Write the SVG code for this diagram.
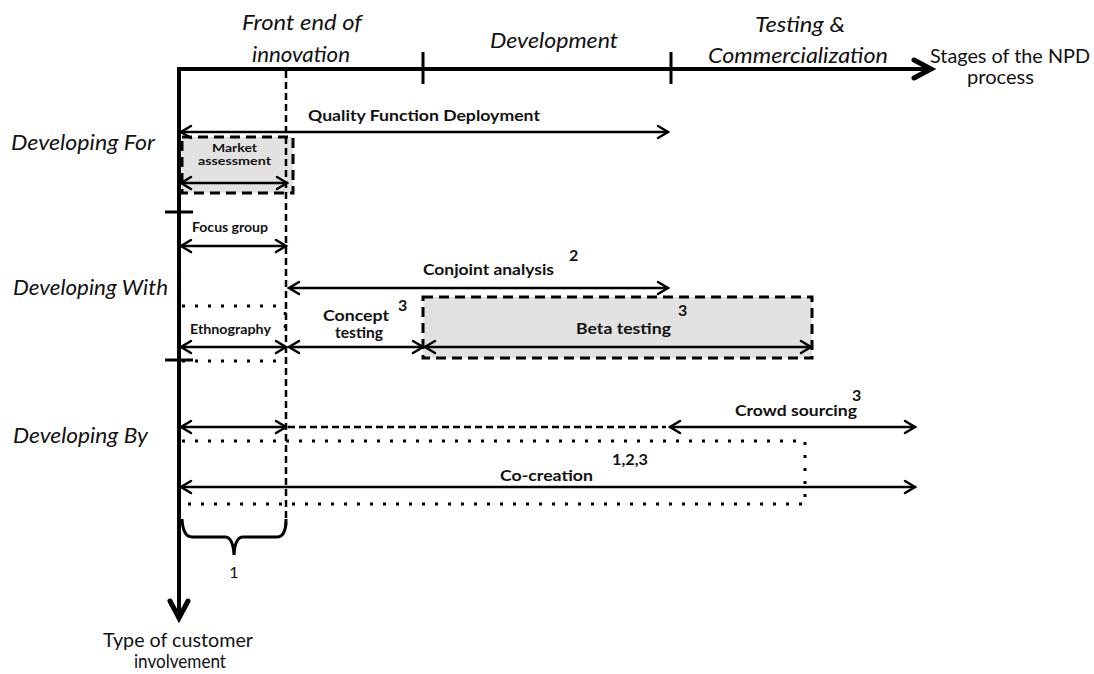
<svg xmlns="http://www.w3.org/2000/svg" width="1094" height="674" viewBox="0 0 1094 674">
  <style>
    .head { font-family: Lato, "Open Sans", "Liberation Sans", sans-serif; font-style: italic; font-size: 21px; fill: #111; }
    .axislbl { font-family: Lato, "Open Sans", "Liberation Sans", sans-serif; font-size: 19px; fill: #111; }
    .lbl { font-family: Lato, "Open Sans", "Liberation Sans", sans-serif; font-weight: bold; font-size: 16px; fill: #111; }
    .lbl-s { font-family: Lato, "Open Sans", "Liberation Sans", sans-serif; font-weight: bold; font-size: 13.5px; fill: #111; }
    .lbl-xs { font-family: Lato, "Open Sans", "Liberation Sans", sans-serif; font-weight: bold; font-size: 12px; fill: #111; }
    .axis { stroke: #000; stroke-width: 4; fill: none; }
    .tick { stroke: #000; stroke-width: 3; fill: none; }
    .span { stroke: #000; stroke-width: 2.5; fill: none; marker-start: url(#chev); marker-end: url(#chev); }
    .dashed { stroke: #000; stroke-width: 2.5; fill: none; stroke-dasharray: 7 4; }
    .dotted { stroke: #000; stroke-width: 3; fill: none; stroke-dasharray: 3 10; }
    .box { fill: #e2e2e2; stroke: #000; stroke-width: 3; stroke-dasharray: 10 6; }
  </style>
  <defs>
    <marker id="chev" markerUnits="userSpaceOnUse" markerWidth="16" markerHeight="16" refX="11" refY="7" orient="auto-start-reverse" overflow="visible">
      <path d="M1,1 L11,7 L1,13" fill="none" stroke="#000" stroke-width="2.5" stroke-linejoin="miter" stroke-linecap="round"/>
    </marker>
    <marker id="bigchev" markerUnits="userSpaceOnUse" markerWidth="24" markerHeight="24" refX="20" refY="10" orient="auto" overflow="visible">
      <path d="M3,1 L20,10 L3,19" fill="none" stroke="#000" stroke-width="5" stroke-linejoin="miter" stroke-linecap="round"/>
    </marker>
  </defs>

  <rect width="1094" height="674" fill="#fff"/>

  <!-- shaded dashed boxes -->
  <g id="market-assessment">
    <rect class="box" x="182" y="137" width="111" height="56"/>
    <text class="lbl-xs" x="212" y="152" textLength="45" lengthAdjust="spacingAndGlyphs">Market</text>
    <text class="lbl-xs" x="198" y="165" textLength="73" lengthAdjust="spacingAndGlyphs">assessment</text>
  </g>
  <g id="beta-testing">
    <rect class="box" x="423" y="297" width="389" height="61"/>
    <text class="lbl" x="678" y="316">3</text>
    <text class="lbl" x="576" y="334" textLength="95" lengthAdjust="spacingAndGlyphs">Beta testing</text>
  </g>

  <!-- axes and stage dividers -->
  <g id="axes">
    <line class="axis" x1="177" y1="69" x2="931" y2="69" marker-end="url(#bigchev)"/>
    <line class="axis" x1="179" y1="67" x2="179" y2="618" marker-end="url(#bigchev)"/>
    <line class="tick" x1="423" y1="52" x2="423" y2="84"/>
    <line class="tick" x1="671" y1="52" x2="671" y2="84"/>
    <line class="tick" x1="165" y1="212" x2="193" y2="212"/>
    <line class="tick" x1="165" y1="360" x2="193" y2="360"/>
    <line class="dashed" x1="286" y1="71" x2="286" y2="526"/>
    <line class="dotted" x1="285" y1="312" x2="285" y2="338" style="stroke-width:2.5"/>
  </g>

  <!-- stage headings -->
  <g id="stage-front-end">
    <text class="head" x="242" y="30" textLength="120" lengthAdjust="spacingAndGlyphs">Front end of</text>
    <text class="head" x="252" y="62" textLength="98" lengthAdjust="spacingAndGlyphs">innovation</text>
  </g>
  <g id="stage-development">
    <text class="head" x="490" y="48" textLength="128" lengthAdjust="spacingAndGlyphs">Development</text>
  </g>
  <g id="stage-testing">
    <text class="head" x="755" y="32" textLength="90" lengthAdjust="spacingAndGlyphs">Testing &amp;</text>
    <text class="head" x="708" y="63" textLength="180" lengthAdjust="spacingAndGlyphs">Commercialization</text>
  </g>
  <g id="axis-x-label">
    <text class="axislbl" x="930" y="63" textLength="160" lengthAdjust="spacingAndGlyphs">Stages of the NPD</text>
    <text class="axislbl" x="967" y="84" textLength="67" lengthAdjust="spacingAndGlyphs">process</text>
  </g>
  <g id="axis-y-label">
    <text class="axislbl" x="103" y="647" textLength="150" lengthAdjust="spacingAndGlyphs">Type of customer</text>
    <text class="axislbl" x="134" y="668" textLength="92" lengthAdjust="spacingAndGlyphs">involvement</text>
  </g>

  <!-- involvement types -->
  <g id="type-for">
    <text class="head" x="11" y="150" textLength="144" lengthAdjust="spacingAndGlyphs">Developing For</text>
  </g>
  <g id="type-with">
    <text class="head" x="13" y="295" textLength="155" lengthAdjust="spacingAndGlyphs">Developing With</text>
  </g>
  <g id="type-by">
    <text class="head" x="13" y="443" textLength="135" lengthAdjust="spacingAndGlyphs">Developing By</text>
  </g>

  <!-- method labels -->
  <g id="qfd">
    <text class="lbl" x="308" y="121" textLength="232" lengthAdjust="spacingAndGlyphs">Quality Function Deployment</text>
  </g>
  <g id="focus-group">
    <text class="lbl-s" x="192" y="232" textLength="76" lengthAdjust="spacingAndGlyphs">Focus group</text>
  </g>
  <g id="conjoint">
    <text class="lbl" x="423" y="275" textLength="131" lengthAdjust="spacingAndGlyphs">Conjoint analysis</text>
    <text class="lbl" x="569" y="261">2</text>
  </g>
  <g id="ethnography">
    <text class="lbl-s" x="190" y="334" textLength="81" lengthAdjust="spacingAndGlyphs">Ethnography</text>
  </g>
  <g id="concept-testing">
    <text class="lbl" x="323" y="321" textLength="66" lengthAdjust="spacingAndGlyphs">Concept</text>
    <text class="lbl" x="335" y="338" textLength="48" lengthAdjust="spacingAndGlyphs">testing</text>
    <text class="lbl" x="398" y="311">3</text>
  </g>
  <g id="crowd-sourcing">
    <text class="lbl" x="735" y="416" textLength="122" lengthAdjust="spacingAndGlyphs">Crowd sourcing</text>
    <text class="lbl" x="852" y="401">3</text>
  </g>
  <g id="co-creation">
    <text class="lbl" x="500" y="481" textLength="93" lengthAdjust="spacingAndGlyphs">Co-creation</text>
    <text class="lbl" x="612" y="465" textLength="36" lengthAdjust="spacingAndGlyphs">1,2,3</text>
  </g>

  <!-- front-end bracket -->
  <g id="front-end-bracket">
    <path d="M182,519 Q183,537 192,537 L225,537 Q233,537 234,555 Q235,537 243,537 L277,537 Q286,537 286,519" fill="none" stroke="#000" stroke-width="3"/>
    <text class="axislbl" x="234" y="578" text-anchor="middle" style="font-size:16px">1</text>
  </g>

  <!-- spans -->
  <g id="connectors">
    <line class="span" x1="181" y1="132" x2="668" y2="132"/>
    <line class="span" x1="181" y1="183" x2="287" y2="183"/>
    <line class="span" x1="181" y1="246" x2="286" y2="246"/>
    <line class="span" x1="289" y1="288" x2="668" y2="288"/>
    <line class="dotted" x1="182" y1="306" x2="285" y2="306"/>
    <line class="span" x1="181" y1="347" x2="286" y2="347"/>
    <line class="span" x1="289" y1="347" x2="423" y2="347"/>
    <line class="span" x1="425" y1="347" x2="811" y2="347"/>
    <line class="dotted" x1="182" y1="361" x2="285" y2="361"/>
    <line class="span" x1="181" y1="427" x2="286" y2="427"/>
    <line class="dashed" x1="288" y1="427" x2="666" y2="427"/>
    <line class="span" x1="670" y1="427" x2="915" y2="427"/>
    <path class="dotted" d="M182,441 H805 V504 H182"/>
    <line class="span" x1="181" y1="487" x2="915" y2="487"/>
  </g>
</svg>
